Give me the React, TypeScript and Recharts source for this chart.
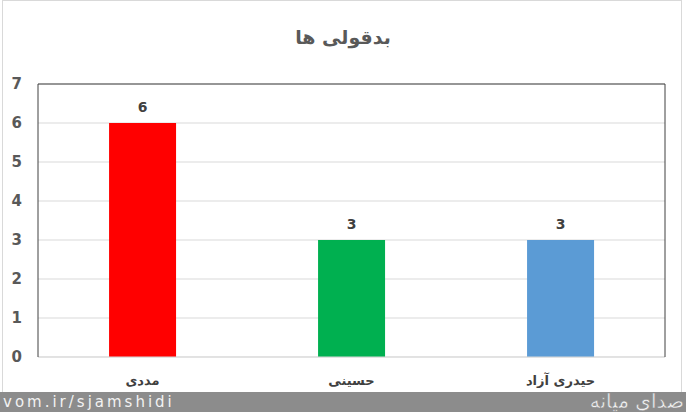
import React from "react";
import { BarChart, Bar, XAxis, YAxis, CartesianGrid, Cell, LabelList, ReferenceLine } from "recharts";

const names = ["مددی", "حسینی", "حیدری آزاد"];
const counts = [6, 3, 3];
const colors = ["#ff0000", "#00b050", "#5b9bd5"];
const yTicks = [0, 1, 2, 3, 4, 5, 6, 7];

const data = names.map((name, i) => ({ name, value: counts[i] }));

const FONT = "'DejaVu Sans', Tahoma, sans-serif";

export default function App() {
  return (
    <div style={{ position: "fixed", left: 0, top: 0, width: 686, height: 412, background: "#fff", overflow: "hidden", fontFamily: FONT }}>
      <div style={{ position: "absolute", left: 2, top: 0, width: 680, height: 410, border: "1px solid #d9d9d9", boxSizing: "border-box" }} />
      <div style={{ position: "absolute", left: 0, top: 26, width: 686, textAlign: "center", fontSize: 19, fontWeight: "bold", color: "#595959", direction: "rtl" }}>
        بدقولی ها
      </div>
      <BarChart
        width={686}
        height={412}
        data={data}
        margin={{ top: 84, right: 0, left: 0, bottom: 0 }}
        barCategoryGap="34%"
        style={{ position: "absolute", left: 0, top: 0 }}
      >
        <CartesianGrid vertical={false} stroke="#d9d9d9" />
        <XAxis
          dataKey="name"
          height={55}
          axisLine={{ stroke: "#d9d9d9" }}
          tickLine={false}
          tickSize={0}
          tickMargin={19}
          tick={{ fill: "#404040", fontSize: 13, fontWeight: "bold", fontFamily: FONT }}
        />
        <YAxis
          width={38}
          domain={[0, 7]}
          ticks={yTicks}
          axisLine={{ stroke: "#404040" }}
          tickLine={false}
          tickSize={0}
          tickMargin={16}
          tick={{ fill: "#595959", fontSize: 15, fontWeight: "bold", fontFamily: FONT }}
        />
        <YAxis
          yAxisId="right"
          orientation="right"
          width={21}
          domain={[0, 7]}
          ticks={yTicks}
          tick={false}
          tickLine={false}
          axisLine={{ stroke: "#404040" }}
        />
        <ReferenceLine y={7} stroke="#404040" />
        <Bar dataKey="value" isAnimationActive={false}>
          {data.map((d, i) => (
            <Cell key={d.name} fill={colors[i]} />
          ))}
          <LabelList dataKey="value" position="top" offset={11} fill="#404040" fontSize={14} fontWeight="bold" fontFamily={FONT} />
        </Bar>
      </BarChart>
      <div style={{ position: "absolute", left: 0, top: 392, width: 686, height: 20, background: "#8c8c8c" }} />
      <div style={{ position: "absolute", left: 3, top: 392, height: 20, lineHeight: "20px", fontSize: 15, letterSpacing: 3, color: "#f2f2f2", fontFamily: "'DejaVu Sans', sans-serif" }}>
        vom.ir/sjamshidi
      </div>
      <div style={{ position: "absolute", right: 2, top: 391, height: 21, lineHeight: "21px", fontSize: 20, color: "#ffffff", direction: "rtl", WebkitTextStroke: "0.5px #8c8c8c", opacity: 0.9 }}>
        صدای میانه
      </div>
    </div>
  );
}
